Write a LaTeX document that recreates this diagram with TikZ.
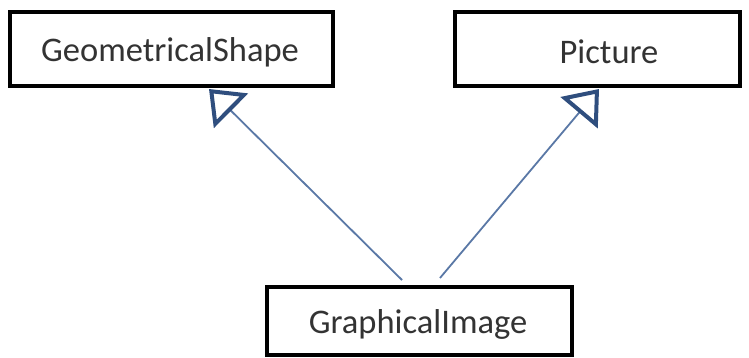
\documentclass[tikz,border=0pt]{standalone}
\usepackage{fontspec}
\setmainfont{Carlito}
\usetikzlibrary{arrows.meta}
\definecolor{connblue}{HTML}{5A78A6}
\definecolor{tipblue}{HTML}{2F4E7E}
\definecolor{textgray}{HTML}{333333}
\tikzset{
  umlbox/.style={draw=black, line width=4pt, fill=white, rectangle, inner sep=0pt},
  lbl/.style={text=textgray, font=\fontsize{34.5}{38}\selectfont, inner sep=0pt, anchor=center},
  inherit/.style={draw=connblue, line width=1.8pt,
    -{Triangle[length=31pt, width=48pt, line width=4pt, color=tipblue, fill=white]}}
}
\begin{document}
\begin{tikzpicture}[x=1pt, y=-1pt]
\useasboundingbox (0,0) rectangle (749,358);
\node[umlbox, minimum width=323pt, minimum height=74pt] (geo) at (171.5,49) {};
\node[lbl] (geot) at (170,52) {GeometricalShape};
\node[umlbox, minimum width=285pt, minimum height=74pt] (pic) at (597.5,49) {};
\node[lbl] (pict) at (609,52) {Picture};
\node[umlbox, minimum width=305pt, minimum height=68pt] (gra) at (419.5,321) {};
\node[lbl] (grat) at (418,324) {GraphicalImage};
\coordinate (s1) at (402,280);
\coordinate (t1) at (209,89);
\coordinate (s2) at (440,278);
\coordinate (t2) at (599,89);
\draw[inherit] (s1) -- (t1);
\draw[inherit] (s2) -- (t2);
\end{tikzpicture}
\end{document}
